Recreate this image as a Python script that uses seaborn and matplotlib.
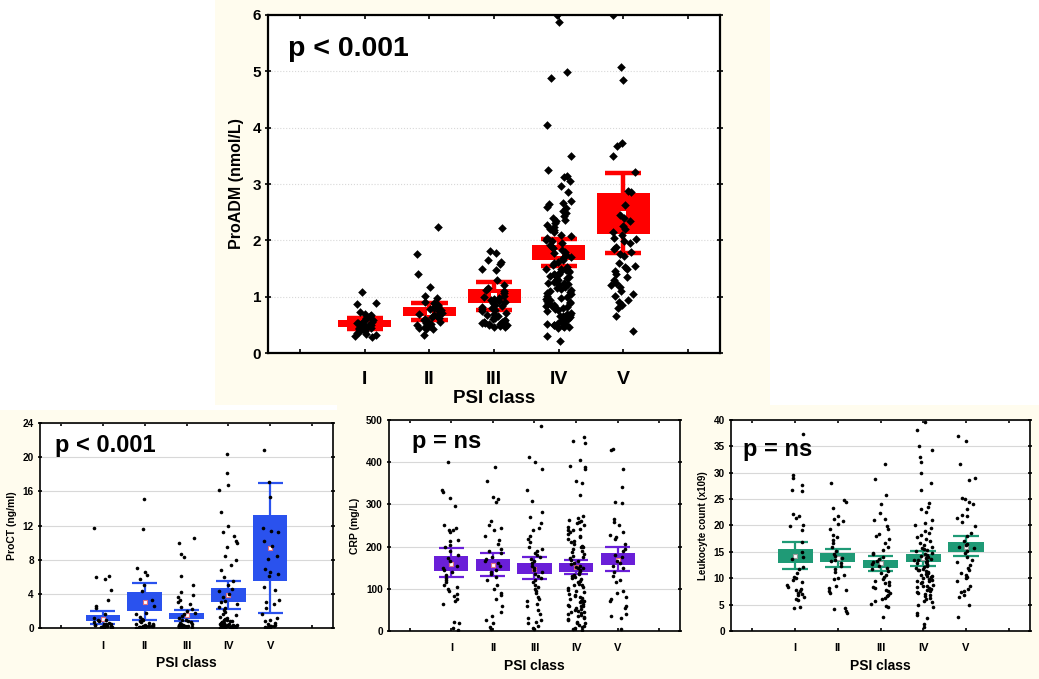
import numpy as np
import pandas as pd
import seaborn as sns
import matplotlib.pyplot as plt
from matplotlib.patches import Rectangle

classes = ["I", "II", "III", "IV", "V"]
order = ["", "I", "II", "III", "IV", "V", " "]

# ---- ProADM (nmol/L) ----
proadm = {
    "I": [1.08, 0.88, 0.87, 0.73, 0.70, 0.68, 0.66, 0.62, 0.60, 0.58, 0.56, 0.55, 0.54, 0.53,
          0.52, 0.50, 0.49, 0.48, 0.47, 0.46, 0.45, 0.44, 0.42, 0.40, 0.38, 0.36, 0.34, 0.32,
          0.30, 0.28],
    "II": [2.24, 1.76, 1.41, 1.18, 1.02, 0.97, 0.90, 0.88, 0.86, 0.84, 0.82, 0.80, 0.78, 0.76,
           0.74, 0.72, 0.70, 0.68, 0.66, 0.64, 0.62, 0.60, 0.58, 0.56, 0.55, 0.53, 0.51, 0.50,
           0.48, 0.46, 0.45, 0.43, 0.42, 0.32],
    "III": [2.22, 1.81, 1.78, 1.65, 1.62, 1.58, 1.50, 1.48, 1.30, 1.20, 1.16, 1.12, 1.10, 1.06,
            1.02, 1.00, 0.98, 0.96, 0.94, 0.92, 0.90, 0.88, 0.86, 0.84, 0.82, 0.80, 0.78, 0.76,
            0.74, 0.72, 0.70, 0.68, 0.66, 0.64, 0.62, 0.60, 0.58, 0.57, 0.56, 0.55, 0.54, 0.53,
            0.52, 0.51, 0.50, 0.49, 0.48, 0.47, 0.46],
    "IV": [6.0, 5.88, 4.98, 4.88, 4.05, 3.50, 3.25, 3.15, 3.12, 3.05, 2.97, 2.85, 2.70, 2.67,
           2.64, 2.60, 2.57, 2.52, 2.48, 2.44, 2.40, 2.37, 2.34, 2.30, 2.27, 2.24, 2.21, 2.18,
           2.14, 2.10, 2.07, 2.04, 2.01, 1.98, 1.95, 1.92, 1.89, 1.86, 1.83, 1.80, 1.77, 1.74,
           1.71, 1.68, 1.65, 1.62, 1.59, 1.56, 1.53, 1.50, 1.49, 1.47, 1.46, 1.44, 1.43, 1.41,
           1.40, 1.38, 1.36, 1.35, 1.33, 1.32, 1.30, 1.28, 1.27, 1.25, 1.24, 1.22, 1.20, 1.18,
           1.16, 1.14, 1.12, 1.10, 1.08, 1.06, 1.04, 1.02, 1.00, 0.98, 0.96, 0.94, 0.92, 0.90,
           0.89, 0.88, 0.86, 0.85, 0.84, 0.82, 0.81, 0.80, 0.78, 0.76, 0.74, 0.72, 0.70, 0.68,
           0.66, 0.65, 0.64, 0.62, 0.60, 0.58, 0.56, 0.54, 0.53, 0.52, 0.51, 0.50, 0.49, 0.48,
           0.47, 0.46, 0.45, 0.30, 0.22],
    "V": [6.0, 5.07, 4.84, 3.73, 3.68, 3.50, 3.22, 2.87, 2.85, 2.62, 2.45, 2.40, 2.35, 2.25,
          2.20, 2.15, 2.10, 2.05, 2.02, 1.98, 1.95, 1.88, 1.85, 1.80, 1.75, 1.72, 1.60, 1.55,
          1.52, 1.50, 1.45, 1.40, 1.35, 1.30, 1.25, 1.20, 1.18, 1.10, 1.05, 1.02, 0.95, 0.90,
          0.85, 0.80, 0.65, 0.40],
}
proadm_mean = [0.52, 0.73, 1.01, 1.78, 2.47]
proadm_box = [(0.46, 0.59), (0.65, 0.82), (0.88, 1.14), (1.65, 1.91), (2.11, 2.84)]
proadm_whisk = [(0.43, 0.62), (0.59, 0.89), (0.76, 1.26), (1.55, 2.03), (1.77, 3.19)]

# ---- ProCT (ng/ml) ----
proct = {
    "I": [11.7, 6.1, 6.0, 5.8, 4.4, 3.3, 2.6, 2.3, 1.7, 1.2, 1.0, 0.9, 0.8, 0.7, 0.6, 0.5, 0.45,
          0.4, 0.35, 0.3, 0.28, 0.25, 0.2, 0.18, 0.15, 0.12, 0.1, 0.08, 0.3, 0.5],
    "II": [15.1, 11.6, 7.0, 6.6, 6.2, 5.8, 5.0, 4.3, 3.3, 2.6, 1.8, 1.6, 1.3, 1.1, 0.9, 0.8, 0.7,
           0.6, 0.5, 0.45, 0.4, 0.35, 0.3, 0.28, 0.25, 0.22, 0.2, 0.18, 0.15, 0.12, 0.1, 0.1,
           0.08, 0.05],
    "III": [10.5, 10.0, 8.7, 8.3, 6.1, 5.1, 4.2, 3.9, 3.6, 3.3, 3.0, 2.8, 2.5, 2.2, 2.0, 1.8, 1.6,
            1.4, 1.2, 1.0, 0.9, 0.8, 0.7, 0.6, 0.5, 0.45, 0.4, 0.35, 0.3, 0.28, 0.25, 0.22, 0.2,
            0.18, 0.15, 0.12, 0.1, 0.08, 0.05, 0.05, 0.1, 0.2],
    "IV": [20.4, 18.1, 16.7, 16.2, 13.6, 12.0, 11.2, 10.8, 10.2, 9.9, 9.5, 8.4, 8.0, 7.4, 6.8,
           6.0, 5.5, 5.0, 4.6, 4.3, 4.0, 3.6, 3.2, 3.0, 2.8, 2.5, 2.3, 2.1, 1.9, 1.7, 1.5, 1.3,
           1.2, 1.1, 1.0, 0.9, 0.85, 0.8, 0.75, 0.7, 0.65, 0.6, 0.55, 0.5, 0.48, 0.45, 0.42, 0.4,
           0.38, 0.35, 0.33, 0.3, 0.28, 0.26, 0.25, 0.22, 0.2, 0.18, 0.16, 0.15, 0.12, 0.1, 0.1,
           0.08, 0.06, 0.05, 0.05, 0.04],
    "V": [20.9, 17.1, 15.3, 11.7, 11.4, 11.2, 10.2, 9.6, 8.4, 8.1, 6.9, 6.6, 6.3, 6.1, 4.8, 4.5,
          3.3, 3.1, 2.8, 2.4, 1.6, 1.2, 1.0, 0.8, 0.6, 0.5, 0.4, 0.3, 0.25, 0.2, 0.15, 0.1, 0.1,
          0.05],
}
proct_mean = [1.12, 3.1, 1.49, 3.82, 9.32]
proct_box = [(0.80, 1.53), (2.0, 4.26), (1.08, 1.81), (3.09, 4.66), (5.46, 13.2)]
proct_whisk = [(0.48, 1.97), (1.0, 5.26), (0.88, 2.09), (2.29, 5.5), (1.8, 17.0)]

# ---- CRP (mg/L) ----
crp = {
    "I": [400, 333, 330, 315, 296, 252, 245, 240, 238, 235, 215, 212, 203, 200, 190, 180, 172,
          165, 155, 150, 145, 140, 132, 125, 120, 115, 110, 105, 100, 95, 88, 82, 75, 70, 65, 22,
          18, 8, 3],
    "II": [388, 355, 318, 312, 305, 260, 250, 245, 240, 225, 215, 205, 195, 190, 185, 175, 170,
           165, 160, 155, 145, 140, 135, 128, 120, 110, 100, 90, 85, 75, 60, 45, 35, 25, 20, 10, 5],
    "III": [485, 412, 400, 383, 333, 308, 282, 270, 255, 245, 240, 225, 218, 210, 200, 195, 190,
            185, 180, 175, 170, 165, 160, 155, 150, 145, 140, 135, 130, 125, 120, 115, 110, 105,
            100, 95, 90, 80, 75, 70, 65, 58, 50, 40, 30, 25, 22, 18, 12, 8, 5],
    "IV": [460, 450, 445, 405, 390, 388, 383, 355, 350, 322, 272, 268, 262, 258, 255, 250, 246,
           242, 238, 234, 230, 226, 222, 218, 214, 210, 206, 202, 198, 194, 190, 186, 182, 178,
           175, 172, 168, 165, 162, 158, 155, 152, 148, 145, 142, 138, 135, 132, 128, 125, 122,
           118, 115, 112, 108, 105, 102, 98, 95, 92, 88, 85, 82, 78, 75, 72, 70, 68, 65, 62, 60,
           58, 55, 52, 50, 48, 45, 42, 40, 38, 35, 32, 30, 28, 25, 22, 20, 18, 15, 12, 10, 8, 5,
           3, 70, 80, 60, 45, 110, 130, 150, 200, 240, 260],
    "V": [430, 428, 383, 340, 305, 302, 265, 258, 252, 235, 228, 222, 218, 205, 195, 190, 180,
          175, 165, 160, 155, 150, 140, 130, 120, 115, 95, 90, 80, 75, 70, 60, 55, 40, 35, 30, 5],
}
crp_mean = [159.6, 156, 147, 151.7, 169]
crp_box = [(142, 178.5), (141, 170), (135, 161), (140.6, 160), (155.6, 184)]
crp_whisk = [(127, 196), (129.5, 184), (122, 174.5), (134, 168), (142, 198)]

# ---- Leukocyte count (x109) ----
leuko = {
    "I": [37.4, 29.6, 29.0, 27.7, 26.8, 26.5, 22.2, 21.8, 21.4, 20.1, 19.9, 19.2, 16.8, 15.0,
          14.0, 13.7, 12.2, 11.8, 11.0, 10.3, 10.0, 9.7, 9.3, 8.8, 8.3, 8.0, 7.8, 7.5, 7.2, 7.0,
          6.8, 6.5, 6.0, 5.8, 4.6, 4.3],
    "II": [28.0, 24.8, 24.4, 23.3, 21.8, 21.2, 20.8, 20.2, 19.3, 18.2, 17.8, 17.2, 16.6, 16.0,
           15.2, 14.6, 14.2, 13.8, 13.5, 13.2, 12.8, 12.3, 11.8, 11.2, 10.6, 10.1, 9.8, 8.6, 8.2,
           7.8, 7.5, 7.2, 4.4, 4.1, 3.7, 3.4],
    "III": [31.7, 28.7, 25.8, 24.1, 22.4, 21.2, 21.0, 19.8, 19.3, 18.3, 18.0, 17.5, 16.7, 16.0,
            15.3, 14.8, 14.5, 14.0, 13.6, 13.3, 13.0, 12.7, 12.4, 12.0, 11.7, 11.4, 11.0, 10.6,
            10.2, 9.8, 9.5, 9.2, 9.0, 8.7, 8.4, 8.1, 7.8, 7.5, 7.2, 6.9, 6.6, 6.3, 6.0, 5.6, 5.2,
            4.8, 4.5, 2.6],
    "IV": [39.5, 38.0, 35.0, 34.2, 33.0, 32.1, 30.0, 28.0, 26.7, 24.2, 23.5, 23.2, 22.5, 21.0,
           20.4, 20.0, 19.5, 19.0, 18.6, 18.2, 17.8, 17.4, 17.0, 16.6, 16.3, 16.0, 15.7, 15.4,
           15.1, 14.8, 14.5, 14.2, 14.0, 13.8, 13.6, 13.4, 13.2, 13.0, 12.8, 12.6, 12.4, 12.2,
           12.0, 11.8, 11.6, 11.4, 11.2, 11.0, 10.8, 10.6, 10.4, 10.2, 10.0, 9.8, 9.6, 9.4, 9.2,
           9.0, 8.8, 8.6, 8.4, 8.2, 8.0, 7.8, 7.6, 7.4, 7.2, 7.0, 6.8, 6.6, 6.3, 6.0, 5.7, 5.4,
           5.0, 4.5, 3.5, 3.0, 2.5, 1.3, 0.8, 11.5, 12.5, 13.5, 10.5, 9.5, 14.4, 15.5, 8.5],
    "V": [37.0, 36.0, 31.7, 28.9, 28.6, 25.2, 25.0, 24.5, 24.0, 23.2, 22.0, 21.7, 21.4, 20.7,
          19.9, 18.5, 18.0, 17.0, 16.5, 16.2, 16.0, 15.7, 15.2, 14.8, 14.0, 13.5, 13.0, 12.5,
          12.0, 11.5, 11.0, 10.7, 10.3, 10.0, 9.5, 8.6, 8.0, 7.6, 7.3, 6.9, 6.5, 5.0, 2.7],
}
leuko_mean = [14.2, 13.8, 12.8, 13.8, 16.0]
leuko_box = [(12.9, 15.5), (13.0, 14.8), (12.0, 13.5), (13.0, 14.5), (15.0, 16.9)]
leuko_whisk = [(11.7, 16.9), (12.1, 15.5), (11.4, 14.2), (12.3, 15.1), (14.2, 18.0)]

sns.set_theme(style="white")
plt.rcParams["font.family"] = ["Liberation Sans", "DejaVu Sans"]
plt.rcParams["font.weight"] = "bold"
plt.rcParams["text.color"] = "black"
plt.rcParams["axes.labelcolor"] = "black"
plt.rcParams["xtick.color"] = "black"
plt.rcParams["ytick.color"] = "black"

cream = "#fffcee"
fig = plt.figure(figsize=(10.39, 6.79), dpi=100)
fig.patch.set_facecolor("white")
for (x0, y0, x1, y1) in [(215, 0, 770, 405), (0, 410, 337, 679), (337, 405, 690, 679), (690, 405, 1039, 679)]:
    fig.patches.append(Rectangle((x0 / 1039, 1 - y1 / 679), (x1 - x0) / 1039, (y1 - y0) / 679,
                                 transform=fig.transFigure, facecolor=cream, edgecolor="none", zorder=-10))


def panel(rect, groups, means, box, whisk, color, ylabel, yticks, ptext, ptext_pos, big, ylab_fs=7.5):
    ax = fig.add_axes(rect)
    ax.set_facecolor("white")
    df = pd.DataFrame([(c, v) for c in classes for v in groups[c]], columns=["PSI class", "val"])
    pos = np.arange(1, 6)
    lo = np.array([b[0] for b in box])
    hi = np.array([b[1] for b in box])
    wlo = np.array([w[0] for w in whisk])
    whi = np.array([w[1] for w in whisk])
    bw = 0.82
    cw = 0.56 if big else 0.6
    lw = 3.2 if big else 1.6
    ax.vlines(pos, wlo, whi, color=color, lw=lw, zorder=2)
    ax.hlines(wlo, pos - cw / 2, pos + cw / 2, color=color, lw=lw, zorder=2)
    ax.hlines(whi, pos - cw / 2, pos + cw / 2, color=color, lw=lw, zorder=2)
    ax.bar(pos, hi - lo, bottom=lo, width=bw, color=color, edgecolor="none", zorder=3)
    if big:
        ax.scatter(pos, means, marker="s", s=18, color="white", edgecolor="none", zorder=4)
    else:
        ax.scatter(pos, means, marker="s", s=12, color="white",
                   edgecolor="#e07080" if color != "#1f9a76" else "#999999",
                   linewidths=0.8, zorder=4)
    sns.stripplot(data=df, x="PSI class", y="val", order=order, ax=ax, color="black",
                  marker="D" if big else "o", size=4.4 if big else 2.6, jitter=0.2 if big else 0.22,
                  linewidth=0, zorder=5)
    ax.set_xlim(-0.5, 6.5)
    ax.set_ylim(yticks[0], yticks[-1])
    ax.set_xticks(range(7))
    ax.set_xticklabels(order)
    ax.set_yticks(yticks)
    ax.grid(axis="y", color="#d8d8d8", lw=0.8, ls=":" if big else "-")
    ax.set_axisbelow(True)
    for s in ax.spines.values():
        s.set_color("black")
        s.set_linewidth(1.6 if big else 1.2)
    fs_t = 14 if big else 8
    fs_y = 11 if big else 7.2
    ax.tick_params(axis="x", direction="in", top=True, bottom=True, length=3 if big else 2,
                   width=1.2, labelsize=fs_t, pad=13 if big else 9, color="black")
    ax.tick_params(axis="y", direction="inout", left=True, right=True, length=4 if big else 3,
                   width=1.2, labelsize=fs_y, pad=3, color="black")
    for t in ax.get_xticklabels() + ax.get_yticklabels():
        t.set_fontweight("bold")
    ax.set_xlabel("PSI class", fontsize=13.5 if big else 10, fontweight="bold", labelpad=1 if big else 4)
    ax.set_ylabel(ylabel, fontsize=11.5 if big else ylab_fs, fontweight="bold", labelpad=6 if big else 4)
    ax.text(ptext_pos[0], ptext_pos[1], ptext, transform=ax.transAxes, fontsize=20.5 if big else 17,
            fontweight="bold", va="center", ha="left")
    return ax


panel([0.258, 0.480, 0.435, 0.498], proadm, proadm_mean, proadm_box, proadm_whisk, "#ff0000",
      "ProADM (nmol/L)", [0, 1, 2, 3, 4, 5, 6], "p < 0.001", (0.045, 0.90), True)
panel([0.0385, 0.075, 0.282, 0.302], proct, proct_mean, proct_box, proct_whisk, "#2a52ee",
      "ProCT (ng/ml)", [0, 4, 8, 12, 16, 20, 24], "p < 0.001", (0.05, 0.89), False)
panel([0.3744, 0.0707, 0.280, 0.311], crp, crp_mean, crp_box, crp_whisk, "#6a1fd8",
      "CRP (mg/L)", [0, 100, 200, 300, 400, 500], "p = ns", (0.08, 0.895), False)
panel([0.7036, 0.0707, 0.2878, 0.311], leuko, leuko_mean, leuko_box, leuko_whisk, "#1f9a76",
      "Leukocyte count (x109)", [0, 5, 10, 15, 20, 25, 30, 35, 40], "p = ns", (0.04, 0.86), False,
      ylab_fs=7)

fig.savefig("out.png", dpi=100)
